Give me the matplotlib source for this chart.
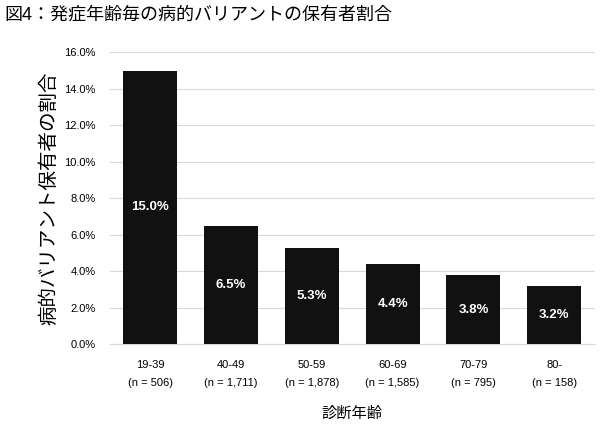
import matplotlib.pyplot as plt
import numpy as np
from matplotlib.ticker import FuncFormatter

plt.rcParams['font.family'] = ['Liberation Sans', 'Noto Sans CJK JP']

# data
age_groups = ['19-39', '40-49', '50-59', '60-69', '70-79', '80-']
n_counts = ['506', '1,711', '1,878', '1,585', '795', '158']
carrier_pct = [15.0, 6.5, 5.3, 4.4, 3.8, 3.2]

fig = plt.figure(figsize=(6, 4.25), dpi=100)
ax = fig.add_axes([0.183, 0.19, 0.808, 0.687])

x = np.arange(len(age_groups))
bars = ax.bar(x, carrier_pct, width=0.67, color='#111111', zorder=3)

# value labels in the middle of each bar
for b, v in zip(bars, carrier_pct):
    ax.text(b.get_x() + b.get_width() / 2, v / 2, f'{v:.1f}%',
            ha='center', va='center', color='white', fontsize=9.5,
            fontweight='bold', zorder=4)

ax.set_ylim(0, 16)
ax.set_yticks(np.arange(0, 16.1, 2))
ax.yaxis.set_major_formatter(FuncFormatter(lambda v, p: f'{v:.1f}%'))
ax.set_xlim(-0.5, len(age_groups) - 0.5)
ax.set_xticks(x)
ax.set_xticklabels([f'{a}\n(n = {n})' for a, n in zip(age_groups, n_counts)],
                   linespacing=2.0)
ax.tick_params(axis='both', length=0, labelsize=8)
ax.tick_params(axis='x', pad=11)
ax.tick_params(axis='y', pad=10)

ax.grid(axis='y', color='#d9d9d9', linewidth=0.8, zorder=0)
for s in ['top', 'right', 'left']:
    ax.spines[s].set_visible(False)
ax.spines['bottom'].set_color('#d9d9d9')

ax.set_xlabel('診断年齢', fontsize=11, labelpad=14)
ax.set_ylabel('病的バリアント保有者の割合', fontsize=14, labelpad=4)

fig.text(0.008, 0.965, '図4：発症年齢毎の病的バリアントの保有者割合',
         fontsize=13, ha='left', va='center')

fig.savefig('out.png', dpi=100)
